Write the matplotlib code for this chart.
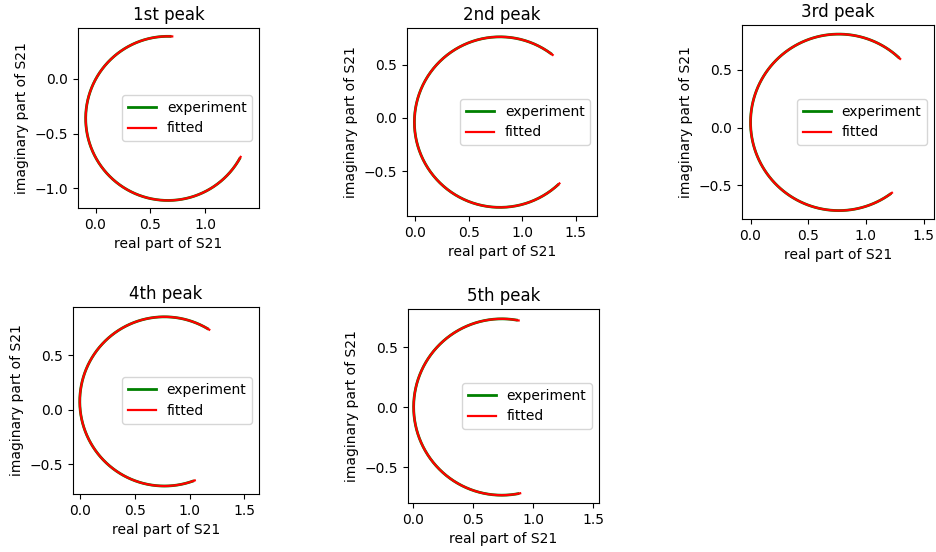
import numpy as np
import matplotlib
matplotlib.use("Agg")
import matplotlib.pyplot as plt

# resonance circles in the complex S21 plane, one per peak
titles = ["1st peak", "2nd peak", "3rd peak", "4th peak", "5th peak"]
centre_re = [0.66, 0.79, 0.765, 0.77, 0.74]
centre_im = [-0.36, -0.04, 0.045, 0.075, 0.0]
radius = [0.75, 0.80, 0.765, 0.775, 0.735]
# arc ends (degrees from centre): upper end -> round the left side -> lower end
upper_deg = [87, 52, 46, 58, 79]
lower_deg = [-28, -46, -53, -69, -78]
# the measured sweep runs a touch past the fitted one at both ends
overshoot_deg = 1.5

# axes boxes in pixels (left, top, right, bottom) and axis ranges
W, H = 937, 552
boxes = [
    (78, 28, 259, 208),
    (407, 28, 597, 216),
    (742, 25, 934, 219),
    (73, 307, 259, 494),
    (408, 309, 599, 503),
]
xlims = [(-0.16, 1.49), (-0.079, 1.697), (-0.074, 1.59), (-0.067, 1.636), (-0.042, 1.55)]
ylims = [(-1.179, 0.466), (-0.921, 0.843), (-0.793, 0.889), (-0.773, 0.94), (-0.80, 0.817)]


def arc(i, extra=0.0):
    a0 = np.radians(upper_deg[i] - extra)
    a1 = np.radians(360 + lower_deg[i] + extra)
    t = np.linspace(-a0, -a1, 400) * -1
    return centre_re[i] + radius[i] * np.cos(t), centre_im[i] + radius[i] * np.sin(t)


fig = plt.figure(figsize=(W / 100, H / 100), dpi=100)

for i, title in enumerate(titles):
    l, t, r, b = boxes[i]
    ax = fig.add_axes([l / W, 1 - b / H, (r - l) / W, (b - t) / H])
    xe, ye = arc(i, -overshoot_deg)
    xf, yf = arc(i)
    ax.plot(xe, ye, color="green", lw=2.0, label="experiment")
    ax.plot(xf, yf, color="red", lw=1.6, label="fitted")
    ax.set_xlim(*xlims[i])
    ax.set_ylim(*ylims[i])
    ax.set_title(title)
    ax.set_xlabel("real part of S21")
    ax.set_ylabel("imaginary part of S21")
    ax.legend(loc="center right")

fig.savefig("out.png", dpi=100)
